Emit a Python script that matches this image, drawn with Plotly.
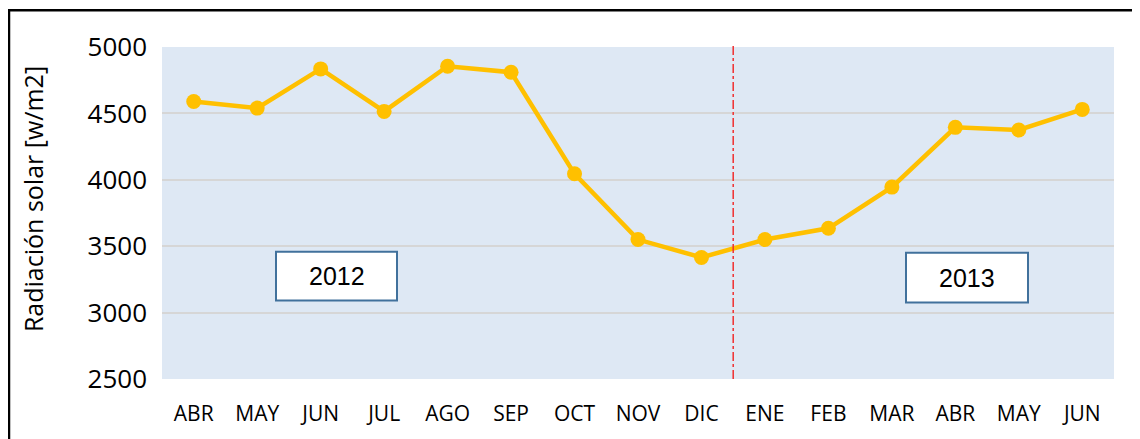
import plotly.graph_objects as go

months = ["ABR", "MAY", "JUN", "JUL", "AGO", "SEP", "OCT", "NOV", "DIC",
          "ENE", "FEB", "MAR", "ABR ", "MAY ", "JUN "]
radiacion = [4590, 4540, 4835, 4515, 4855, 4810, 4045, 3550, 3415,
             3550, 3635, 3945, 4395, 4375, 4530]
y_ticks = [2500, 3000, 3500, 4000, 4500, 5000]
year_labels = ["2012", "2013"]

OFF = 8  # page body margin
W, H = 1140 - OFF, 439 - OFF
L, R, T, B = 162 - OFF, 26, 47 - OFF, 58
pw, ph = W - L - R, H - T - B

def px(x):
    return (x - OFF - L) / pw

def py(y):
    return (H - B - (y - OFF)) / ph

fig = go.Figure()
fig.add_trace(go.Scatter(
    x=list(range(len(months))), y=radiacion, mode="lines+markers",
    line=dict(color="#FFC000", width=4.5),
    marker=dict(color="#FFC000", size=15),
    showlegend=False, hoverinfo="y",
))

shapes = [
    dict(type="line", xref="x", yref="paper", x0=8.5, x1=8.5, y0=0, y1=py(44),
         line=dict(color="#F03030", width=1.5, dash="dashdot")),
    dict(type="rect", xref="paper", yref="paper",
         x0=px(9), x1=px(1137), y0=py(10), y1=py(470),
         line=dict(color="black", width=2.5), fillcolor="rgba(0,0,0,0)", layer="above"),
]
annotations = []
boxes = [(276, 397, 253, 302), (906, 1028, 254, 304)]
for (x0, x1, y0, y1), lab in zip(boxes, year_labels):
    shapes.append(dict(type="rect", xref="paper", yref="paper",
                       x0=px(x0), x1=px(x1), y0=py(y1), y1=py(y0),
                       line=dict(color="#41719C", width=2), fillcolor="white"))
    annotations.append(dict(xref="paper", yref="paper", x=px((x0 + x1) / 2),
                            y=py((y0 + y1) / 2), xanchor="center", yanchor="middle",
                            text=lab, showarrow=False,
                            font=dict(family="Liberation Sans, Arial", size=25, color="black")))

annotations.append(dict(xref="paper", yref="paper", x=px(33), y=py(200),
                        xanchor="center", yanchor="middle",
                        text="Radiación solar [w/m2]", textangle=-90, showarrow=False,
                        font=dict(family="Open Sans", size=25, color="black")))

fig.update_layout(
    width=W, height=H,
    margin=dict(l=L, r=R, t=T, b=B),
    paper_bgcolor="white", plot_bgcolor="#DEE8F4",
    shapes=shapes, annotations=annotations,
    xaxis=dict(tickmode="array", tickvals=list(range(len(months))),
               ticktext=[m.strip() for m in months], range=[-0.5, len(months) - 0.5],
               showgrid=False, zeroline=False, showline=False, ticks="",
               ticklabelstandoff=20,
               tickfont=dict(family="Open Sans", size=21, color="black")),
    yaxis=dict(range=[2500, 5000], tickvals=y_ticks, showgrid=True,
               gridcolor="#D6D6D6", gridwidth=1.5, zeroline=False, ticks="",
               ticklabelstandoff=14,
               tickfont=dict(family="Open Sans", size=26, color="black")),
)
fig.write_html("out.html")
